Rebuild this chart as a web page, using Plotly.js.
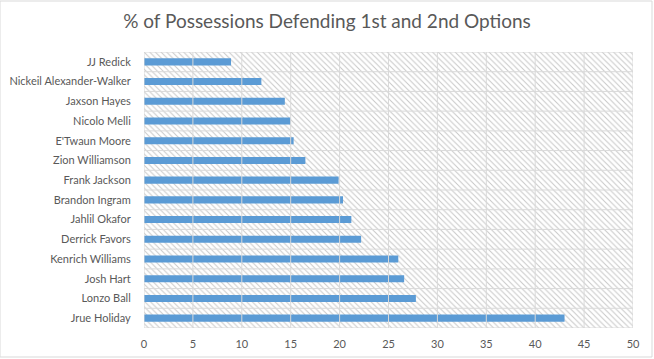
<!DOCTYPE html>
<html>
<head>
<meta charset="utf-8">
<script src="https://cdn.plot.ly/plotly-3.0.1.min.js"></script>
<style>html,body{margin:0;padding:0;background:#fff;}#chart{width:654px;height:359px;}</style>
</head>
<body>
<div id="chart"></div>
<script>
const players = ["Jrue Holiday","Lonzo Ball","Josh Hart","Kenrich Williams","Derrick Favors","Jahlil Okafor","Brandon Ingram","Frank Jackson","Zion Williamson","E'Twaun Moore","Nicolo Melli","Jaxson Hayes","Nickeil Alexander-Walker","JJ Redick"];
const pctDefending = [43.0, 27.8, 26.6, 26.0, 22.2, 21.2, 20.35, 19.9, 16.5, 15.3, 15.0, 14.4, 12.0, 8.9];
const xTicks = [0,5,10,15,20,25,30,35,40,45,50];

const idx = players.map((_, i) => i);
const xMax = xTicks[xTicks.length - 1];
const yLo = -0.5, yHi = players.length - 0.5;

// background hatch band
const hatch = {
  type: 'bar', orientation: 'h', y: idx, x: idx.map(() => xMax), base: 0, width: 1,
  marker: {color: '#ffffff', line: {width: 0},
    pattern: {shape: '\\', size: 4, solidity: 0.25, fgcolor: '#c8c8c8', bgcolor: '#ffffff'}},
  hoverinfo: 'skip', showlegend: false
};

// gridlines (drawn over hatch, under data bars)
const gx = [], gy = [];
xTicks.forEach(t => { gx.push(t, t, null); gy.push(yLo, yHi, null); });
for (let i = 0; i <= players.length; i++) { gx.push(0, xMax, null); gy.push(i - 0.5, i - 0.5, null); }
const grid = {type: 'scatter', mode: 'lines', x: gx, y: gy, line: {color: '#d9d9d9', width: 1},
  hoverinfo: 'skip', showlegend: false, cliponaxis: false};

const bars = {
  type: 'bar', orientation: 'h', y: idx, x: pctDefending, width: 0.36,
  marker: {color: '#5B9BD5'}, showlegend: false
};

const layout = {
  width: 654, height: 359,
  margin: {l: 144, r: 21, t: 52, b: 31, pad: 0},
  paper_bgcolor: '#ffffff', plot_bgcolor: '#ffffff',
  barmode: 'overlay',
  font: {family: 'Lato, "Open Sans", sans-serif', color: '#595959', size: 11},
  title: {text: '% of Possessions Defending 1st and 2nd Options',
    font: {family: 'Lato, "Open Sans", sans-serif', size: 19, color: '#595959'},
    x: 0.5, xanchor: 'center', y: 0.94, yanchor: 'middle'},
  xaxis: {range: [0, xMax], tickvals: xTicks, ticktext: xTicks.map(String), showgrid: false, zeroline: false,
    showline: false, ticks: 'outside', ticklen: 6, tickcolor: 'rgba(0,0,0,0)', fixedrange: true},
  yaxis: {range: [yLo, yHi], tickvals: idx, ticktext: players, showgrid: false, zeroline: false,
    showline: false, ticks: 'outside', ticklen: 10, tickcolor: 'rgba(0,0,0,0)', fixedrange: true},
  shapes: [{type: 'rect', xref: 'paper', yref: 'paper', x0: -144/489, x1: 1 + 19/489, y0: -29/276, y1: 1 + 51/276,
    line: {color: '#d9d9d9', width: 1}, fillcolor: 'rgba(0,0,0,0)'}]
};

Plotly.newPlot('chart', [hatch, grid, bars], layout, {displayModeBar: false, staticPlot: true});
</script>
</body>
</html>
